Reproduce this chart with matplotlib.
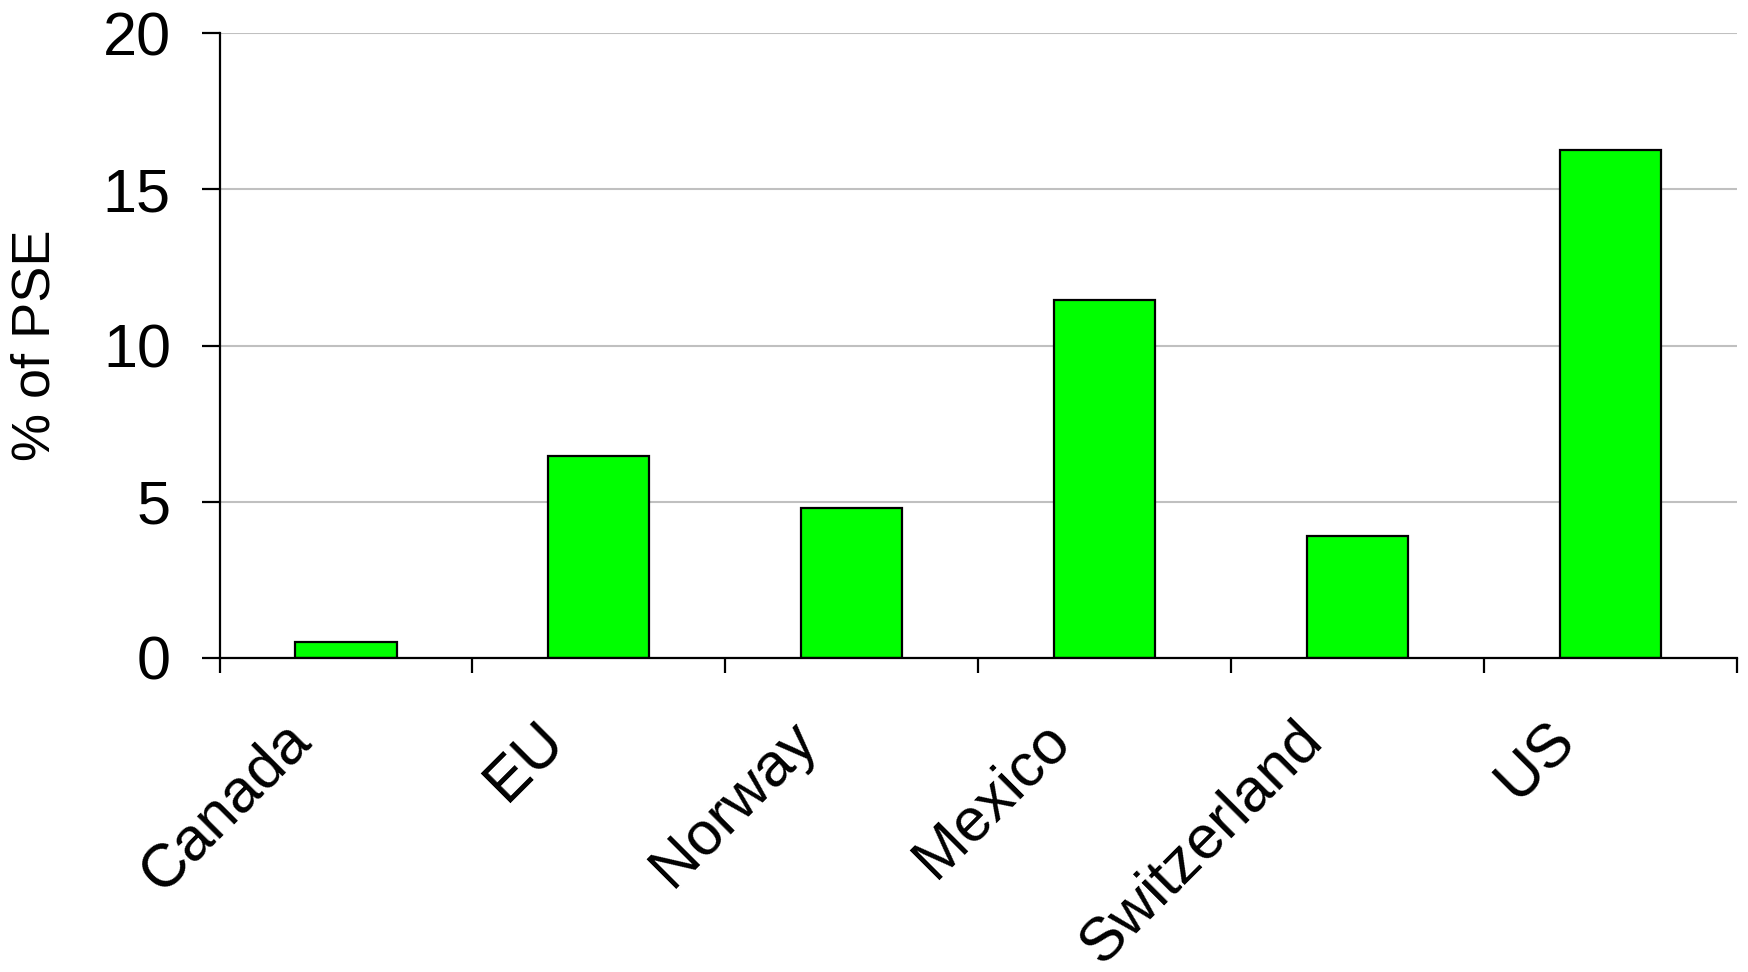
import numpy as np
import matplotlib
matplotlib.use("Agg")
import matplotlib.pyplot as plt
from matplotlib.transforms import ScaledTranslation

# Datos
paises = ["Canada", "EU", "Norway", "Mexico", "Switzerland", "US"]
valores = [0.5, 6.45, 4.8, 11.45, 3.9, 16.25]

plt.rcParams['font.family'] = ['Liberation Sans', 'DejaVu Sans']

fig = plt.figure(figsize=(17.48, 9.72), dpi=100)
ax = fig.add_axes([0.1256, 0.3234, 0.8681, 0.6422])

x = np.arange(len(paises))
ax.bar(x, valores, width=0.4, color='#00ff00', edgecolor='black', linewidth=1.6, zorder=3)

ax.set_xlim(-0.5, len(paises) - 0.5)
ax.set_ylim(0, 20)
ax.set_yticks([0, 5, 10, 15, 20])
ax.yaxis.grid(True, color='#c0c0c0', linewidth=1.5, zorder=0)

for lado in ['top', 'right']:
    ax.spines[lado].set_visible(False)
for lado in ['left', 'bottom']:
    ax.spines[lado].set_linewidth(1.6)
    ax.spines[lado].set_zorder(4)

# marcas en los limites de categoria, etiquetas en el centro
ax.set_xticks(np.arange(-0.5, len(paises), 1.0), minor=True)
ax.set_xticks(x)
ax.set_xticklabels(paises, rotation=45, ha='right', va='center', rotation_mode='anchor')
ax.tick_params(axis='x', which='major', length=0, pad=53, labelsize=44)
ax.tick_params(axis='x', which='minor', length=11, width=1.6)
ax.tick_params(axis='y', length=13, width=1.6, pad=22, labelsize=44)

desplazamiento = ScaledTranslation(-0.44, 0, fig.dpi_scale_trans)
for etiqueta in ax.get_xticklabels():
    etiqueta.set_transform(etiqueta.get_transform() + desplazamiento)

ax.set_ylabel('% of PSE', fontsize=39)
ax.yaxis.set_label_coords(-0.1045, 0.5)

fig.savefig('out.png', dpi=100)
